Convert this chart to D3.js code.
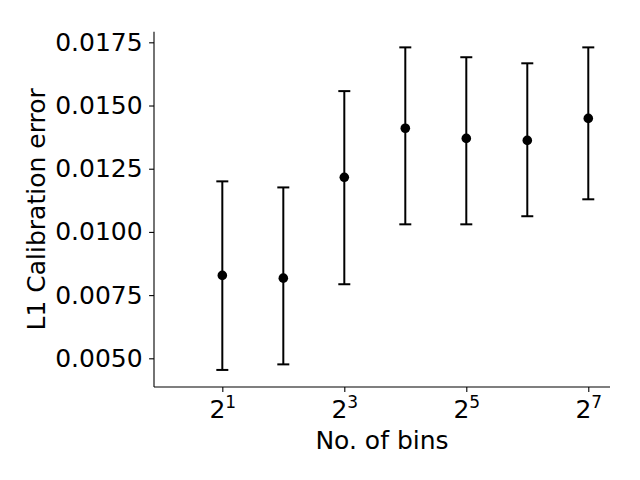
<!DOCTYPE html>
<html>
<head>
<meta charset="utf-8">
<script src="https://cdn.jsdelivr.net/npm/d3@7"></script>
<style>
  html, body { margin: 0; padding: 0; background: #fff; }
  svg { display: block; font-family: "DejaVu Sans", sans-serif; }
</style>
</head>
<body>
<svg id="chart" width="640" height="480"></svg>
<script>
// ---- data ----
const bins = [2, 4, 8, 16, 32, 64, 128];
const meanError = [0.00828, 0.00817, 0.01216, 0.01410, 0.01370, 0.01362, 0.01449];
const lowerError = [0.00454, 0.00476, 0.00793, 0.01030, 0.01030, 0.01062, 0.01129];
const upperError = [0.01200, 0.01176, 0.01557, 0.01730, 0.01691, 0.01667, 0.01730];
const xTickExponents = [1, 3, 5, 7];
const yTicks = [0.0050, 0.0075, 0.0100, 0.0125, 0.0150, 0.0175];
const xLabel = "No. of bins";
const yLabel = "L1 Calibration error";

// ---- layout ----
const mLeft = 154, mRight = 610, mTop = 31.7, mBottom = 387;
const svg = d3.select("#chart");

const x = d3.scaleLog().base(2)
  .domain([Math.pow(2, -0.12), Math.pow(2, 7.356)])
  .range([mLeft, mRight]);
const y = d3.scaleLinear()
  .domain([0.003865, 0.01792])
  .range([mBottom, mTop]);

const fontSize = 25;

// y axis
const yAxis = d3.axisLeft(y)
  .tickValues(yTicks)
  .tickFormat(d3.format(".4f"))
  .tickSize(4.9)
  .tickPadding(6.5);
const gy = svg.append("g").attr("transform", `translate(${mLeft},0)`).call(yAxis);
gy.select(".domain").attr("stroke-width", 1.1).attr("d", `M0,${mTop}V${mBottom}`);
gy.selectAll(".tick line").attr("stroke-width", 1.1);
gy.selectAll(".tick text").attr("font-size", fontSize).attr("font-family", "DejaVu Sans").attr("fill", "#000");

// x axis
const xAxis = d3.axisBottom(x)
  .tickValues(xTickExponents.map(e => Math.pow(2, e)))
  .tickFormat(() => "")
  .tickSize(4.9);
const gx = svg.append("g").attr("transform", `translate(0,${mBottom})`).call(xAxis);
gx.select(".domain").attr("stroke-width", 1.1).attr("d", `M${mLeft},0H${mRight}`);
gx.selectAll(".tick line").attr("stroke-width", 1.1);
gx.selectAll(".tick text").remove();
gx.selectAll(".tick").each(function(d) {
  const e = Math.round(Math.log2(d));
  const t = d3.select(this).append("text")
    .attr("y", 31)
    .attr("text-anchor", "middle")
    .attr("fill", "#000")
    .attr("font-size", fontSize)
    .attr("font-family", "DejaVu Sans");
  t.append("tspan").text("2");
  t.append("tspan").attr("dy", -10).attr("font-size", fontSize * 0.68).text(String(e));
});

// labels
svg.append("text")
  .attr("x", (mLeft + mRight) / 2)
  .attr("y", 449)
  .attr("text-anchor", "middle")
  .attr("font-size", fontSize)
  .attr("fill", "#000")
  .text(xLabel);
svg.append("text")
  .attr("transform", `translate(45,${(mTop + mBottom) / 2}) rotate(-90)`)
  .attr("text-anchor", "middle")
  .attr("font-size", fontSize)
  .attr("fill", "#000")
  .text(yLabel);

// error bars
const data = bins.map((b, i) => ({ b, m: meanError[i], lo: lowerError[i], hi: upperError[i] }));
const g = svg.append("g");
g.selectAll("line.err").data(data).join("line")
  .attr("x1", d => x(d.b)).attr("x2", d => x(d.b))
  .attr("y1", d => y(d.lo)).attr("y2", d => y(d.hi))
  .attr("stroke", "#000").attr("stroke-width", 2);
const cap = 6;
g.selectAll("line.capHi").data(data).join("line")
  .attr("x1", d => x(d.b) - cap).attr("x2", d => x(d.b) + cap)
  .attr("y1", d => y(d.hi)).attr("y2", d => y(d.hi))
  .attr("stroke", "#000").attr("stroke-width", 2);
g.selectAll("line.capLo").data(data).join("line")
  .attr("x1", d => x(d.b) - cap).attr("x2", d => x(d.b) + cap)
  .attr("y1", d => y(d.lo)).attr("y2", d => y(d.lo))
  .attr("stroke", "#000").attr("stroke-width", 2);
g.selectAll("circle").data(data).join("circle")
  .attr("cx", d => x(d.b)).attr("cy", d => y(d.m))
  .attr("r", 4.8).attr("fill", "#000");
</script>
</body>
</html>
